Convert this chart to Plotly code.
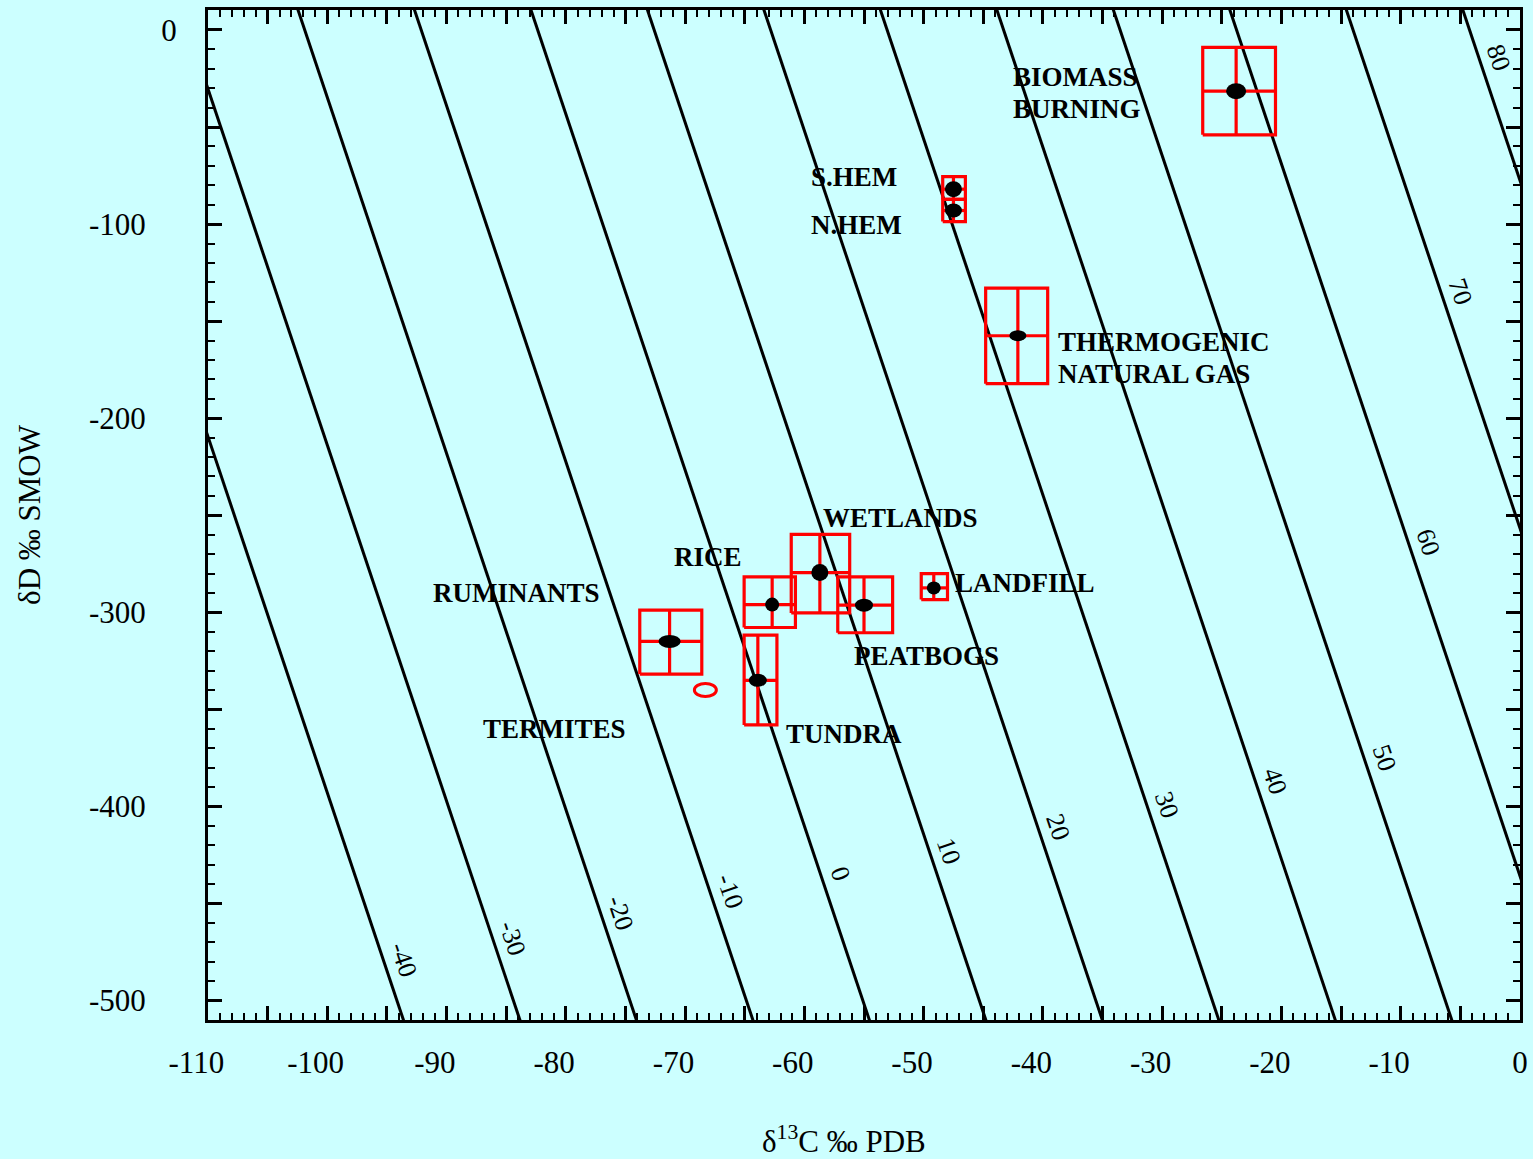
import plotly.graph_objects as go

FONT = "Liberation Serif, Times New Roman, Times, serif"
BG = "#CCFFFF"
RED = "#FF0000"
NBSP = "\u00a0"

# ---------------- axes ----------------
X_RANGE = [-110, 0]
Y_RANGE = [-510, 10.3]
x_major = list(range(-110, 1, 5))
x_ticktext = [((str(v) + NBSP * 3) if v < 0 else str(v)) if v % 10 == 0 else "" for v in x_major]
y_major = list(range(-500, 1, 50))
y_ticktext = [((str(v) + NBSP * 4) if v < 0 else str(v)) if v % 100 == 0 else "" for v in y_major]
x_title = "\u03b4<sup>13</sup>C \u2030 PDB"
y_title = "\u03b4D \u2030 SMOW"

# ---------------- iso-lines (labelled diagonal reference lines) ----------------
iso_labels = [-40, -30, -20, -10, 0, 10, 20, 30, 40, 50, 60, 70, 80]
iso_label_dD = [-479, -468, -455, -444, -434.5, -423, -410.5, -399, -387, -375, -264, -134.5, -14]
ISO_X0 = -54.55      # d13C where the "0" line meets dD = -510
ISO_DX = 0.9766      # d13C shift per label unit
ISO_SLOPE = -18.34   # dD per d13C along a line
ISO_DREF = -510.0

# ---------------- sources ----------------
src_names = ["BIOMASS BURNING", "S.HEM", "N.HEM", "THERMOGENIC NATURAL GAS", "LANDFILL",
             "WETLANDS", "RICE", "PEATBOGS", "RUMINANTS", "TUNDRA"]
src_d13c = [-23.8, -47.5, -47.5, -42.1, -49.15, -58.7, -62.7, -55.0, -71.3, -63.9]
src_dD = [-31.5, -82.0, -93.0, -157.5, -287.4, -279.5, -296.0, -296.3, -315.0, -335.0]
src_d13c_lo = [-26.6, -48.4, -48.4, -44.8, -50.2, -61.1, -65.05, -57.2, -73.8, -65.05]
src_d13c_hi = [-20.5, -46.5, -46.5, -39.6, -48.0, -56.2, -60.75, -52.6, -68.6, -62.3]
src_dD_lo = [-54.0, -87.3, -98.7, -182.2, -293.4, -300.3, -307.8, -310.5, -331.8, -358.0]
src_dD_hi = [-9.0, -75.5, -87.3, -133.0, -280.0, -259.8, -281.7, -281.7, -298.9, -311.7]

termites_d13c = [-68.3]
termites_dD = [-340.0]

# text labels (one entry per label, lines separated by <br>)
lab_text = ["BIOMASS<br>BURNING", "S.HEM", "N.HEM", "THERMOGENIC<br>NATURAL GAS", "LANDFILL",
            "WETLANDS", "RICE", "PEATBOGS", "RUMINANTS", "TUNDRA", "TERMITES"]
lab_d13c = [-42.7, -59.6, -59.6, -38.9, -47.5, -58.6, -71.1, -56.0, -91.3, -61.7, -87.1]
lab_dD = [-32.5, -75.7, -100.5, -169.2, -284.9, -251.4, -271.5, -322.5, -290.1, -362.7, -360.1]

# marker (ellipse) pixel sizes - style
dot_w = [20, 17, 17, 17, 14, 17, 14, 18, 22, 18]
dot_h = [16, 16, 14, 11, 13, 17, 14, 13, 13, 13]
LINE_GAP = 32  # px between lines of a two-line label


def iso_x(label, dD):
    return ISO_X0 + ISO_DX * label + (dD - ISO_DREF) / ISO_SLOPE


fig = go.Figure()

# diagonal lines
for L in iso_labels:
    ys = [Y_RANGE[0] - 60, Y_RANGE[1] + 60]
    xs = [iso_x(L, y) for y in ys]
    fig.add_trace(go.Scatter(x=xs, y=ys, mode="lines", line=dict(color="black", width=3),
                             hoverinfo="skip", showlegend=False))

# boxes
bx, by = [], []
for x0, x1, y0, y1 in zip(src_d13c_lo, src_d13c_hi, src_dD_lo, src_dD_hi):
    bx += [x0, x1, x1, x0, x0, None]
    by += [y0, y0, y1, y1, y0, None]
fig.add_trace(go.Scatter(x=bx, y=by, mode="lines", line=dict(color=RED, width=3.2),
                         hoverinfo="skip", showlegend=False))

# crosshairs
hx, hy = [], []
for x, y, x0, x1, y0, y1 in zip(src_d13c, src_dD, src_d13c_lo, src_d13c_hi, src_dD_lo, src_dD_hi):
    hx += [x, x, None, x0, x1, None]
    hy += [y0, y1, None, y, y, None]
fig.add_trace(go.Scatter(x=hx, y=hy, mode="lines", line=dict(color=RED, width=3.2),
                         hoverinfo="skip", showlegend=False))

shapes = []
for x, y, w, h in zip(src_d13c, src_dD, dot_w, dot_h):
    shapes.append(dict(type="circle", xref="x", yref="y", xsizemode="pixel", ysizemode="pixel",
                       xanchor=x, yanchor=y, x0=-w / 2, x1=w / 2, y0=-h / 2, y1=h / 2,
                       fillcolor="black", line=dict(width=0), layer="above"))
for x, y in zip(termites_d13c, termites_dD):
    shapes.append(dict(type="circle", xref="x", yref="y", xsizemode="pixel", ysizemode="pixel",
                       xanchor=x, yanchor=y, x0=-11, x1=11, y0=-6.5, y1=6.5,
                       fillcolor="rgba(0,0,0,0)", line=dict(width=3, color=RED), layer="above"))

annotations = []
for L, d in zip(iso_labels, iso_label_dD):
    annotations.append(dict(x=iso_x(L, d), y=d, xref="x", yref="y", text=str(L), showarrow=False,
                            textangle=71.4, xshift=20, font=dict(family=FONT, size=26, color="black")))
for t, x, y in zip(lab_text, lab_d13c, lab_dD):
    lines = t.split("<br>")
    n = len(lines)
    for i, ln in enumerate(lines):
        annotations.append(dict(x=x, y=y, xref="x", yref="y", text=ln, showarrow=False,
                                xanchor="left", yanchor="middle",
                                yshift=((n - 1) / 2 - i) * LINE_GAP,
                                font=dict(family=FONT, size=27, color="black", weight="bold")))
# x-axis title (placed slightly left of centre, as in the original)
annotations.append(dict(x=0.4845, y=-0.1188, xref="paper", yref="paper", text=x_title,
                        showarrow=False, xanchor="center", yanchor="middle",
                        font=dict(family=FONT, size=31, color="black")))

fig.update_layout(width=1533, height=1159, margin=dict(l=208, r=5, t=10, b=139),
                  paper_bgcolor=BG, plot_bgcolor=BG, shapes=shapes, annotations=annotations,
                  showlegend=False, font=dict(family=FONT, color="black"), hovermode=False)

common = dict(showline=True, linewidth=3, linecolor="black", mirror="ticks", showgrid=False,
              zeroline=False, ticks="inside", ticklen=14, tickwidth=2.5, tickcolor="black",
              tickfont=dict(family=FONT, size=31, color="black"))
fig.update_xaxes(range=X_RANGE, tickmode="array", tickvals=x_major, ticktext=x_ticktext,
                 minor=dict(tickmode="linear", tick0=0, dtick=1, ticks="inside", ticklen=7,
                            tickwidth=2, tickcolor="black"),
                 ticklabelstandoff=13, **common)
fig.update_yaxes(range=Y_RANGE, tickmode="array", tickvals=y_major, ticktext=y_ticktext,
                 minor=dict(tickmode="linear", tick0=0, dtick=10, ticks="inside", ticklen=7,
                            tickwidth=2, tickcolor="black"),
                 ticklabelstandoff=22,
                 title=dict(text=y_title, standoff=40,
                            font=dict(family=FONT, size=31, color="black")),
                 **common)

fig.write_html("out.html", config={"displayModeBar": False},
               post_script="document.body.style.margin='0';")
